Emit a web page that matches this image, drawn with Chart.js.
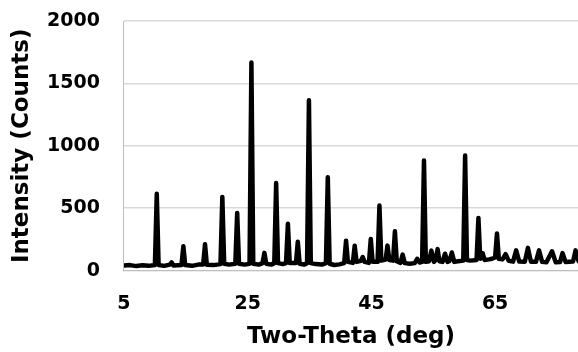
<!DOCTYPE html>
<html>
<head>
<meta charset="utf-8">
<script src="https://cdn.jsdelivr.net/npm/chart.js@4.4.1/dist/chart.umd.min.js"></script>
<style>
  body { margin: 0; background: #fff; }
  #wrap { width: 578px; height: 352px; }
</style>
</head>
<body>
<div id="wrap"><canvas id="myChart" width="578" height="352"></canvas></div>
<script>
// two-theta (deg) and intensity (counts)
var twoTheta = [
  5.0, 6.0, 7.0, 8.0, 9.0, 10.0, 10.3, 10.6, 11.5, 12.4, 12.7, 13.0,
  14.3, 14.6, 14.9, 16.0, 17.0, 17.8, 18.1, 18.4, 19.5, 20.6, 20.9, 21.2,
  22.0, 23.0, 23.3, 23.6, 24.5, 25.3, 25.6, 25.9, 26.8, 27.4, 27.7, 28.0,
  28.8, 29.3, 29.6, 29.9, 30.7, 31.2, 31.5, 31.8, 32.8, 33.1, 33.4, 34.1,
  34.6, 34.9, 35.2, 36.0, 37.0, 37.65, 37.95, 38.25, 39.0, 39.8, 40.6, 40.9,
  41.2, 42.0, 42.3, 42.6, 43.3, 43.6, 43.9, 44.6, 44.9, 45.2, 46.0, 46.3,
  46.6, 47.3, 47.6, 47.9, 48.5, 48.8, 49.1, 49.7, 50.05, 50.4, 51.2, 52.0,
  52.4, 52.8, 53.2, 53.5, 53.8, 54.3, 54.7, 55.1, 55.4, 55.7, 56.0, 56.5,
  56.9, 57.3, 57.6, 58.0, 58.4, 59.0, 59.85, 60.15, 60.45, 61.0, 62.0, 62.3,
  62.6, 63.0, 63.3, 64.0, 64.5, 65.0, 65.3, 65.6, 66.2, 66.7, 67.2, 67.9,
  68.4, 68.9, 69.8, 70.3, 70.8, 71.6, 72.1, 72.6, 73.3, 74.2, 74.8, 75.5,
  75.9, 76.4, 77.0, 77.6, 78.0, 78.5
];
var counts = [
  40, 44, 36, 42, 38, 45, 615, 45, 38, 48, 65, 40,
  45, 195, 44, 38, 48, 48, 212, 46, 44, 52, 590, 55,
  48, 55, 462, 55, 48, 55, 1668, 55, 48, 60, 142, 55,
  48, 60, 702, 60, 52, 60, 375, 60, 60, 232, 55, 48,
  60, 1365, 60, 52, 48, 60, 748, 55, 45, 50, 60, 240,
  70, 62, 200, 70, 78, 108, 70, 62, 254, 70, 70, 522,
  80, 88, 200, 85, 80, 315, 75, 62, 128, 60, 55, 60,
  95, 65, 70, 882, 70, 75, 160, 70, 85, 172, 75, 70,
  135, 70, 75, 145, 70, 75, 80, 922, 85, 80, 85, 422,
  95, 138, 85, 90, 95, 105, 298, 95, 90, 132, 78, 72,
  162, 72, 70, 182, 70, 70, 162, 70, 66, 155, 66, 68,
  140, 68, 70, 72, 162, 76
];
var xTicks = [5, 25, 45, 65];
var yMin = 0, yMax = 2000, yStep = 500;
var xMin = 5, xMax = 78.4;

var points = twoTheta.map(function (x, i) { return { x: x, y: counts[i] }; });

var boldFont = function (size) {
    return { family: 'DejaVu Sans', weight: 'bold', size: size };
};

var ctx = document.getElementById('myChart').getContext('2d');
var chart = new Chart(ctx, {
    type: 'line',
    data: {
        datasets: [{
            data: points,
            borderColor: '#000',
            borderWidth: 4.5,
            pointRadius: 0,
            tension: 0,
            borderJoinStyle: 'round',
            borderCapStyle: 'round'
        }]
    },
    options: {
        responsive: false,
        animation: false,
        layout: { padding: { top: 21, right: 0, left: 0, bottom: 0 } },
        plugins: { legend: { display: false }, tooltip: { enabled: false } },
        scales: {
            x: {
                type: 'linear',
                min: xMin,
                max: xMax,
                afterBuildTicks: function (scale) {
                    scale.ticks = xTicks.map(function (v) { return { value: v }; });
                },
                // tick marks are only used as spacing between axis and labels
                grid: { display: false, drawTicks: true, tickLength: 22 },
                border: { display: true, color: '#bfbfbf', width: 1 },
                ticks: { color: '#000', padding: 0, maxRotation: 0, font: boldFont(19) },
                title: {
                    display: true,
                    text: 'Two-Theta (deg)',
                    color: '#000',
                    padding: { top: 8, bottom: 1 },
                    font: boldFont(23)
                }
            },
            y: {
                min: yMin,
                max: yMax,
                ticks: {
                    stepSize: yStep,
                    color: '#000',
                    padding: 0,
                    font: boldFont(19),
                    callback: function (v) { return String(v); }
                },
                grid: { color: '#d9d9d9', lineWidth: 1.5, drawTicks: true, tickLength: 24, tickColor: 'rgba(0,0,0,0)' },
                border: { display: true, color: '#bfbfbf', width: 1 },
                title: {
                    display: true,
                    text: 'Intensity (Counts)',
                    color: '#000',
                    padding: { top: 8, bottom: 11.5 },
                    font: boldFont(23)
                }
            }
        }
    }
});
</script>
</body>
</html>
